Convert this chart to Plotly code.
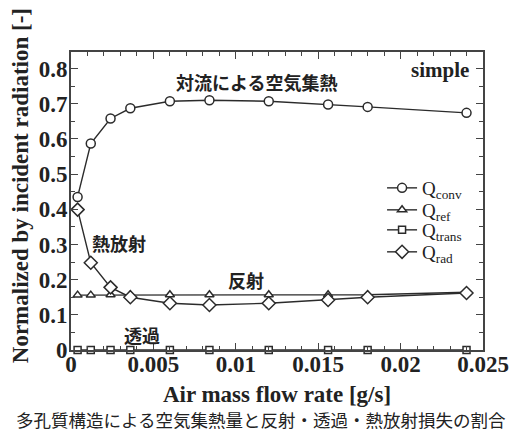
import plotly.graph_objects as go

flow = [0.0004, 0.0012, 0.0024, 0.0036, 0.006, 0.0084, 0.012, 0.0156, 0.018, 0.024]
q_conv = [0.435, 0.587, 0.658, 0.687, 0.707, 0.71, 0.707, 0.698, 0.691, 0.674]
q_ref = [0.156, 0.156, 0.157, 0.157, 0.157, 0.157, 0.157, 0.157, 0.157, 0.164]
q_trans = [0.0, 0.0, 0.0, 0.0, 0.0, 0.0, 0.0, 0.0, 0.0, 0.0]
q_rad = [0.399, 0.248, 0.178, 0.15, 0.133, 0.128, 0.133, 0.142, 0.15, 0.162]

x_ticks = [0, 0.005, 0.01, 0.015, 0.02, 0.025]
x_ticktext = ["0", "0.005", "0.01", "0.015", "0.02", "0.025"]
y_ticks = [0, 0.1, 0.2, 0.3, 0.4, 0.5, 0.6, 0.7, 0.8]
y_ticktext = ["0", "0.1", "0.2", "0.3", "0.4", "0.5", "0.6", "0.7", "0.8"]

series = [
    ("Q<sub>conv</sub>", q_conv, "circle", 9, "legend", 0.5436),
    ("Q<sub>ref</sub>", q_ref, "triangle-up", 8, "legend2", 0.4698),
    ("Q<sub>trans</sub>", q_trans, "square", 7, "legend3", 0.4027),
    ("Q<sub>rad</sub>", q_rad, "diamond", 10, "legend4", 0.3289),
]

line_col = "#2b2b2b"
txt_col = "#222"
serif = "Liberation Serif"
cjk = "Noto Sans CJK JP"

fig = go.Figure()
for name, vals, sym, sz, lg, _ in series:
    fig.add_trace(go.Scatter(
        x=flow, y=vals, name=name, mode="lines+markers", legend=lg,
        line=dict(color=line_col, width=1.4),
        marker=dict(symbol=sym, size=sz, color="white", line=dict(width=1.5, color=line_col)),
        cliponaxis=False,
    ))

axis_common = dict(
    showline=True, linecolor="#444", linewidth=1.6, mirror="allticks",
    ticks="inside", ticklen=7, tickwidth=1.4, tickcolor="#444",
    showgrid=False, zeroline=False, ticklabeloverflow="allow",
    tickfont=dict(family=serif, size=23, color=txt_col, weight="bold"),
)

fig.update_xaxes(
    range=[0, 0.025],
    tickvals=x_ticks, ticktext=x_ticktext,
    minor=dict(dtick=0.001, tick0=0, ticks="inside", ticklen=4, tickwidth=1.2, tickcolor="#444"),
    ticklabelstandoff=-7,
    title=dict(text="Air mass flow rate [g/s]",
               font=dict(family=serif, size=23, color=txt_col, weight="bold"), standoff=9),
    **axis_common,
)
fig.update_yaxes(
    range=[0, 0.847],
    tickvals=y_ticks, ticktext=y_ticktext,
    minor=dict(dtick=0.05, tick0=0, ticks="inside", ticklen=4, tickwidth=1.2, tickcolor="#444"),
    ticklabelstandoff=-3,
    **axis_common,
)

# y-axis title placed as a rotated annotation (sits above the plot centre, as in the reference)
fig.add_annotation(x=-0.1235, y=0.55, xref="paper", yref="paper", showarrow=False,
                   textangle=-90, xanchor="center", yanchor="middle",
                   text="Normalized by incident radiation [-]",
                   font=dict(family=serif, size=23, color=txt_col, weight="bold"))

annots = [
    ("対流による空気集熱", 0.01123, 0.761),
    ("熱放射", 0.00291, 0.304),
    ("反射", 0.01064, 0.199),
    ("透過", 0.00428, 0.043),
]
for txt, ax_, ay_ in annots:
    fig.add_annotation(x=ax_, y=ay_, text=txt, showarrow=False,
                       font=dict(family=cjk, size=18, color=txt_col, weight="bold"), xanchor="center")
fig.add_annotation(x=0.0243, y=0.795, text="simple", showarrow=False, xanchor="right",
                   font=dict(family=serif, size=21, color=txt_col, weight="bold"))
fig.add_annotation(x=0.46, y=-0.232, xref="paper", yref="paper", showarrow=False,
                   xanchor="center", yanchor="middle",
                   text="多孔質構造による空気集熱量と反射・透過・熱放射損失の割合",
                   font=dict(family=cjk, size=17.5, color=txt_col))

legend_common = dict(x=0.755, xanchor="left", yanchor="middle", bgcolor="rgba(0,0,0,0)",
                     font=dict(family=serif, size=19, color=txt_col), borderwidth=0)
layout_legends = {}
for name, vals, sym, sz, lg, ly in series:
    layout_legends[lg] = dict(y=ly, **legend_common)

fig.update_layout(
    width=521, height=435,
    margin=dict(l=71, r=29, t=52, b=85),
    paper_bgcolor="white", plot_bgcolor="white",
    showlegend=True,
    **layout_legends,
)

fig.write_html("out.html", config={"displayModeBar": False},
               post_script="document.body.style.margin='0';")
